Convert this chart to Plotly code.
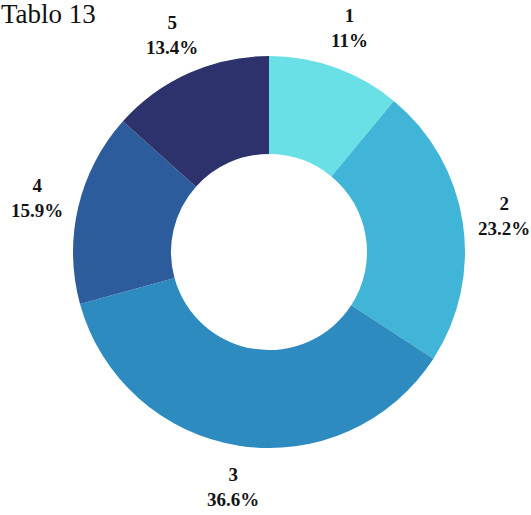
import math
import plotly.graph_objects as go

categories = ["1", "2", "3", "4", "5"]
shares = [11.0, 23.2, 36.6, 15.9, 13.4]
colors = ["#68e0e6", "#40b5d7", "#2d8bc0", "#2c5c9c", "#2d326c"]
title_text = "Tablo 13"

W, H = 531, 515
cx, cy = 269, 263          # donut centre in px (y measured from bottom)
R = 196                    # outer radius in px
label_r = 238              # distance of the labels from the centre

fig = go.Figure(go.Pie(
    labels=categories,
    values=shares,
    hole=0.5,
    sort=False,
    direction="clockwise",
    rotation=0,
    marker=dict(colors=colors, line=dict(width=0)),
    textinfo="none",
    hoverinfo="label+percent",
    domain=dict(x=[(cx - R) / W, (cx + R) / W], y=[(cy - R) / H, (cy + R) / H]),
    showlegend=False,
))

# labels placed at each slice's mid angle, outside the ring
total = sum(shares)
acc = 0.0
annotations = []
for cat, v in zip(categories, shares):
    mid = (acc + v / 2) / total * 2 * math.pi
    acc += v
    x = cx + label_r * math.sin(mid)
    y = cy + label_r * math.cos(mid)
    pct = f"{v / total * 100:.1f}".rstrip("0").rstrip(".")
    annotations.append(dict(
        x=x / W, y=y / H, xref="paper", yref="paper",
        text=f"<b>{cat}</b><br><b>{pct}%</b>", showarrow=False,
        xanchor="center", yanchor="middle",
        font=dict(family="Liberation Serif, Times New Roman, serif", size=19, color="#141414"),
        align="center",
    ))

annotations.append(dict(
    x=0, y=1, xref="paper", yref="paper", xshift=-1, yshift=3,
    text=title_text, showarrow=False, xanchor="left", yanchor="top",
    font=dict(family="Liberation Serif, Times New Roman, serif", size=27, color="#111111"),
))

fig.update_layout(
    width=W, height=H,
    margin=dict(l=0, r=0, t=0, b=0),
    paper_bgcolor="white", plot_bgcolor="white",
    annotations=annotations,
)

fig.write_html("out.html")
